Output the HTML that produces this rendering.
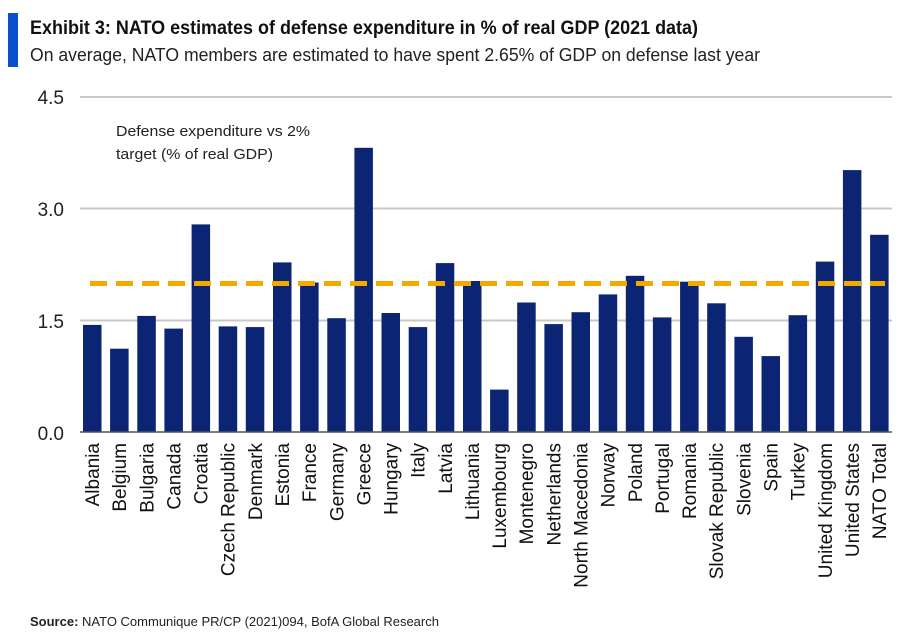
<!DOCTYPE html>
<html><head><meta charset="utf-8"><style>
body{margin:0;background:#fff;}
svg{display:block;font-family:"Liberation Sans",sans-serif;}
</style></head><body>
<svg width="919" height="633" viewBox="0 0 919 633" xmlns="http://www.w3.org/2000/svg">
<rect width="919" height="633" fill="#fff"/>
<rect x="8" y="13" width="10" height="54" fill="#0a4fd0"/>
<text x="30" y="34" font-size="19" font-weight="bold" fill="#111" textLength="668" lengthAdjust="spacingAndGlyphs">Exhibit 3: NATO estimates of defense expenditure in % of real GDP (2021 data)</text>
<text x="30" y="61" font-size="18" fill="#222" textLength="730" lengthAdjust="spacingAndGlyphs">On average, NATO members are estimated to have spent 2.65% of GDP on defense last year</text>
<g stroke="#c8c8c8" stroke-width="2">
<line x1="80" y1="97" x2="892" y2="97"/>
<line x1="80" y1="208.5" x2="892" y2="208.5"/>
<line x1="80" y1="320.5" x2="892" y2="320.5"/>
</g>
<g font-size="19" fill="#222" text-anchor="end">
<text x="64" y="104">4.5</text>
<text x="64" y="216">3.0</text>
<text x="64" y="328">1.5</text>
<text x="64" y="440">0.0</text>
</g>
<text x="116" y="136" font-size="15" fill="#222" textLength="194" lengthAdjust="spacingAndGlyphs">Defense expenditure vs 2%</text>
<text x="116" y="159" font-size="15" fill="#222" textLength="157" lengthAdjust="spacingAndGlyphs">target  (% of real GDP)</text>
<g fill="#0b2474">
<rect x="83.0" y="324.9" width="18.5" height="107.1"/>
<rect x="110.1" y="348.7" width="18.5" height="83.3"/>
<rect x="137.3" y="315.9" width="18.5" height="116.1"/>
<rect x="164.4" y="328.6" width="18.5" height="103.4"/>
<rect x="191.6" y="224.4" width="18.5" height="207.6"/>
<rect x="218.7" y="326.4" width="18.5" height="105.6"/>
<rect x="245.8" y="327.1" width="18.5" height="104.9"/>
<rect x="273.0" y="262.4" width="18.5" height="169.6"/>
<rect x="300.1" y="282.5" width="18.5" height="149.5"/>
<rect x="327.3" y="318.2" width="18.5" height="113.8"/>
<rect x="354.4" y="147.8" width="18.5" height="284.2"/>
<rect x="381.5" y="313.0" width="18.5" height="119.0"/>
<rect x="408.7" y="327.1" width="18.5" height="104.9"/>
<rect x="435.8" y="263.1" width="18.5" height="168.9"/>
<rect x="463.0" y="281.0" width="18.5" height="151.0"/>
<rect x="490.1" y="389.6" width="18.5" height="42.4"/>
<rect x="517.2" y="302.5" width="18.5" height="129.5"/>
<rect x="544.4" y="324.1" width="18.5" height="107.9"/>
<rect x="571.5" y="312.2" width="18.5" height="119.8"/>
<rect x="598.7" y="294.4" width="18.5" height="137.6"/>
<rect x="625.8" y="275.8" width="18.5" height="156.2"/>
<rect x="652.9" y="317.4" width="18.5" height="114.6"/>
<rect x="680.1" y="281.7" width="18.5" height="150.3"/>
<rect x="707.2" y="303.3" width="18.5" height="128.7"/>
<rect x="734.4" y="336.8" width="18.5" height="95.2"/>
<rect x="761.5" y="356.1" width="18.5" height="75.9"/>
<rect x="788.6" y="315.2" width="18.5" height="116.8"/>
<rect x="815.8" y="261.6" width="18.5" height="170.4"/>
<rect x="842.9" y="170.1" width="18.5" height="261.9"/>
<rect x="870.1" y="234.8" width="18.5" height="197.2"/>
</g>
<line x1="80" y1="432" x2="892" y2="432" stroke="#555" stroke-width="1.5"/>
<line x1="90" y1="283.5" x2="885" y2="283.5" stroke="#f5a800" stroke-width="5" stroke-dasharray="17,9"/>
<g font-size="19" fill="#111" text-anchor="end">
<text transform="translate(99.0,443) rotate(-90)">Albania</text>
<text transform="translate(126.1,443) rotate(-90)">Belgium</text>
<text transform="translate(153.3,443) rotate(-90)">Bulgaria</text>
<text transform="translate(180.4,443) rotate(-90)">Canada</text>
<text transform="translate(207.6,443) rotate(-90)">Croatia</text>
<text transform="translate(234.7,443) rotate(-90)">Czech Republic</text>
<text transform="translate(261.8,443) rotate(-90)">Denmark</text>
<text transform="translate(289.0,443) rotate(-90)">Estonia</text>
<text transform="translate(316.1,443) rotate(-90)">France</text>
<text transform="translate(343.3,443) rotate(-90)">Germany</text>
<text transform="translate(370.4,443) rotate(-90)">Greece</text>
<text transform="translate(397.5,443) rotate(-90)">Hungary</text>
<text transform="translate(424.7,443) rotate(-90)">Italy</text>
<text transform="translate(451.8,443) rotate(-90)">Latvia</text>
<text transform="translate(479.0,443) rotate(-90)">Lithuania</text>
<text transform="translate(506.1,443) rotate(-90)">Luxembourg</text>
<text transform="translate(533.2,443) rotate(-90)">Montenegro</text>
<text transform="translate(560.4,443) rotate(-90)">Netherlands</text>
<text transform="translate(587.5,443) rotate(-90)">North Macedonia</text>
<text transform="translate(614.7,443) rotate(-90)">Norway</text>
<text transform="translate(641.8,443) rotate(-90)">Poland</text>
<text transform="translate(668.9,443) rotate(-90)">Portugal</text>
<text transform="translate(696.1,443) rotate(-90)">Romania</text>
<text transform="translate(723.2,443) rotate(-90)">Slovak Republic</text>
<text transform="translate(750.4,443) rotate(-90)">Slovenia</text>
<text transform="translate(777.5,443) rotate(-90)">Spain</text>
<text transform="translate(804.6,443) rotate(-90)">Turkey</text>
<text transform="translate(831.8,443) rotate(-90)">United Kingdom</text>
<text transform="translate(858.9,443) rotate(-90)">United States</text>
<text transform="translate(886.1,443) rotate(-90)">NATO Total</text>
</g>
<text x="30" y="626" font-size="13" fill="#222"><tspan font-weight="bold">Source:</tspan>  NATO Communique  PR/CP (2021)094,   BofA Global Research</text>
</svg>
</body></html>
